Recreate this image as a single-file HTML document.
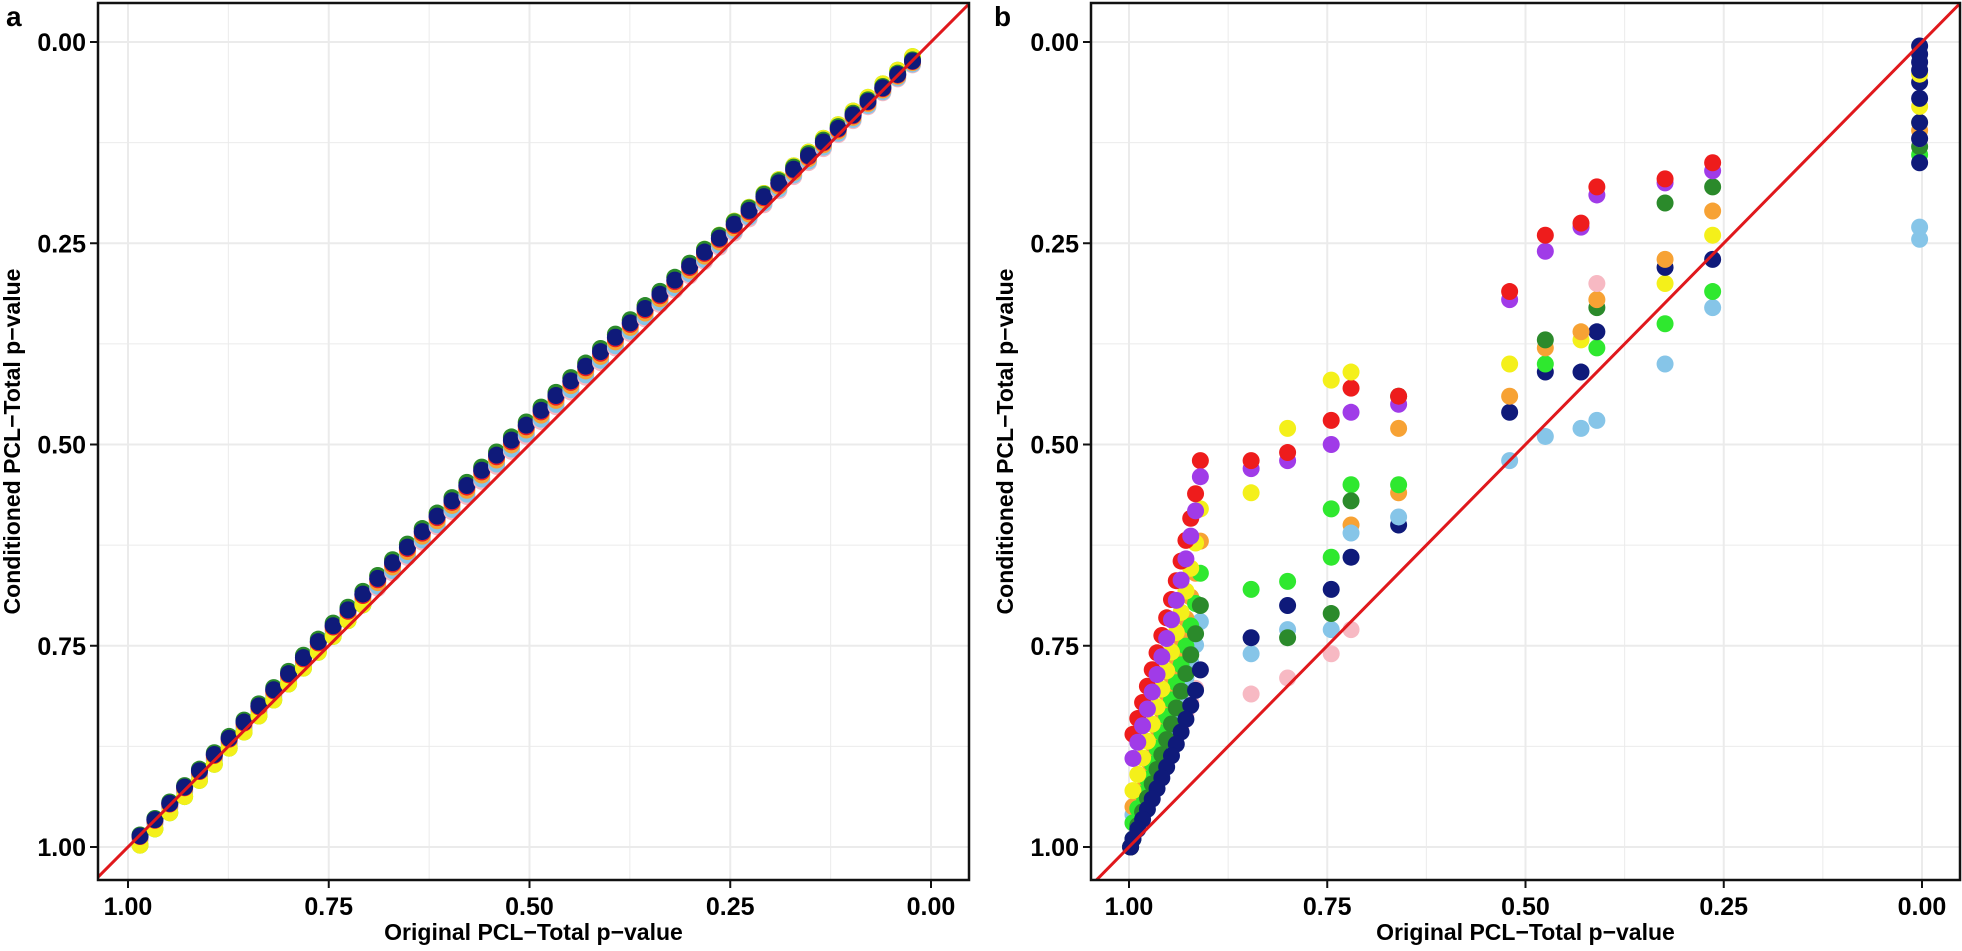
<!DOCTYPE html>
<html><head><meta charset="utf-8"><style>
html,body{margin:0;padding:0;background:#fff;}
svg{display:block;font-family:"Liberation Sans",Arial,sans-serif;font-weight:bold;}
</style></head><body>
<svg id="s" width="1962" height="951" viewBox="0 0 1962 951" xmlns="http://www.w3.org/2000/svg">
<rect width="1962" height="951" fill="#fff"/>
<g id="ga"></g><g id="gb"></g>
<text x="6" y="26" font-size="28">a</text>
<text x="994" y="26" font-size="28">b</text>
</svg>
<script>
var NS="http://www.w3.org/2000/svg";
function el(p,t,a,txt){var e=document.createElementNS(NS,t);for(var k in a)e.setAttribute(k,a[k]);if(txt!=null)e.textContent=txt;p.appendChild(e);return e;}
var C={red:"#ee1c1c",purple:"#a03be8",yellow:"#f4f01a",orange:"#f7a234",pink:"#f7b9c3",lb:"#86c5e8",green:"#2fe82f",dg:"#2b8a2b",navy:"#0f1a7a"};
function panel(g,L,R,X,clipId,pts){
  var T=3,B=880,Y=function(v){return 42+805*v;};
  var cp=el(g,"clipPath",{id:clipId});el(cp,"rect",{x:L,y:T,width:R-L,height:B-T});
  var i,v;
  for(i=0;i<=8;i++){v=i/8;var w=(i%2==0)?2:1;
    el(g,"line",{x1:L,x2:R,y1:Y(v),y2:Y(v),stroke:"#ebebeb","stroke-width":w});
    el(g,"line",{y1:T,y2:B,x1:X(v),x2:X(v),stroke:"#ebebeb","stroke-width":w});}
  var pg=el(g,"g",{"clip-path":"url(#"+clipId+")"});
  pts.forEach(function(p){el(pg,"circle",{cx:X(p[0]),cy:Y(p[1]),r:8.5,fill:C[p[2]]});});
  var v0=(X(0)-L)/(X(0)-X(1)), v1=-(R-X(0))/(X(0)-X(1));
  el(pg,"line",{x1:X(v0+0.1),y1:Y(v0+0.1),x2:X(v1-0.1),y2:Y(v1-0.1),stroke:"#e0181c","stroke-width":3});
  el(g,"rect",{x:L,y:T,width:R-L,height:B-T,fill:"none",stroke:"#111","stroke-width":2.5});
  var labs=["0.00","0.25","0.50","0.75","1.00"];
  for(i=0;i<5;i++){v=i/4;
    el(g,"line",{x1:L-8,x2:L,y1:Y(v),y2:Y(v),stroke:"#111","stroke-width":2});
    el(g,"text",{x:L-12,y:Y(v)+9,"text-anchor":"end","font-size":25},labs[i]);
    el(g,"line",{y1:B,y2:B+8,x1:X(v),x2:X(v),stroke:"#111","stroke-width":2});
    el(g,"text",{x:X(v),y:B+35,"text-anchor":"middle","font-size":25},labs[i]);}
  el(g,"text",{x:(L+R)/2,y:940,"text-anchor":"middle","font-size":23},"Original PCL\u2212Total p\u2212value");
  var cy=(T+B)/2, cx=L-78;
  el(g,"text",{x:cx,y:cy,"text-anchor":"middle","font-size":23,transform:"rotate(-90 "+cx+" "+cy+")"},"Conditioned PCL\u2212Total p\u2212value");
}
var order=["pink","lb","orange","green","yellow","red","purple","dg","navy"];
var offs={pink:-0.010,lb:-0.007,orange:-0.002,green:0.010,yellow:0.006,red:0.002,purple:0.004,dg:0.008,navy:0.004};
var pa=[];
for(var x=0.985;x>0.005;x-=0.0185){
  var d=0.028*Math.sin(Math.PI*x);
  order.forEach(function(c){var y=x-d-offs[c]*(0.3+0.7*Math.sin(Math.PI*x))+0.004;
    if(c=="green"||c=="yellow")y=x-d+0.014*(x>0.7?1:-0.2);
    pa.push([x,Math.max(0,y),c]);});
}
var pb=[];
function col(x,list){list.forEach(function(q){pb.push([x,q[1],q[0]]);});}
col(0.264,[["lb",0.33],["green",0.31],["navy",0.27],["yellow",0.24],["orange",0.21],["dg",0.18],["purple",0.16],["red",0.15]]);
col(0.324,[["lb",0.40],["green",0.35],["yellow",0.30],["navy",0.28],["orange",0.27],["dg",0.20],["purple",0.175],["red",0.17]]);
col(0.41,[["lb",0.47],["green",0.38],["navy",0.36],["dg",0.33],["orange",0.32],["pink",0.30],["purple",0.19],["red",0.18]]);
col(0.43,[["lb",0.48],["navy",0.41],["yellow",0.37],["orange",0.36],["purple",0.23],["red",0.225]]);
col(0.475,[["lb",0.49],["navy",0.41],["green",0.40],["orange",0.38],["dg",0.37],["purple",0.26],["red",0.24]]);
col(0.52,[["lb",0.52],["navy",0.46],["orange",0.44],["yellow",0.40],["purple",0.32],["red",0.31]]);
col(0.66,[["navy",0.60],["lb",0.59],["orange",0.56],["green",0.55],["orange",0.48],["dg",0.44],["purple",0.45],["red",0.44]]);
col(0.72,[["pink",0.73],["navy",0.64],["orange",0.60],["lb",0.61],["green",0.55],["dg",0.57],["purple",0.46],["red",0.43],["yellow",0.41]]);
col(0.745,[["pink",0.76],["lb",0.73],["navy",0.68],["dg",0.71],["green",0.64],["green",0.58],["purple",0.50],["red",0.47],["yellow",0.42]]);
col(0.80,[["pink",0.79],["lb",0.73],["dg",0.74],["navy",0.70],["green",0.67],["purple",0.52],["red",0.51],["yellow",0.48]]);
col(0.846,[["pink",0.81],["lb",0.76],["navy",0.74],["green",0.68],["yellow",0.56],["purple",0.53],["red",0.52]]);
var curves={pink:[0.78,0.97],lb:[0.72,0.96],dg:[0.70,0.99],green:[0.66,0.97],orange:[0.62,0.95],yellow:[0.58,0.93],purple:[0.54,0.89],red:[0.52,0.86],navy:[0.78,0.99]};
order.forEach(function(c){var a=curves[c];
  for(var i=0;i<=14;i++){var t=i/14;var x=0.91+0.085*t;
    var y=a[0]+(a[1]-a[0])*Math.pow(t,0.8);pb.push([x,y,c]);}
  pb.push([0.998,1.0,c]);});
[["lb",0.245],["lb",0.23],["green",0.14],["dg",0.13],["pink",0.12],["orange",0.11],["yellow",0.10],["navy",0.15],["navy",0.12],["navy",0.10],["yellow",0.08],["navy",0.07],["navy",0.05],["yellow",0.04],["navy",0.035],["navy",0.025],["navy",0.015],["navy",0.005]].forEach(function(q){pb.push([0.003,q[1],q[0]]);});
panel(document.getElementById("ga"),98,969,function(v){return 931-803*v;},"ca",pa);
panel(document.getElementById("gb"),1091,1960,function(v){return 1922-793*v;},"cb",pb);
</script>
</body></html>
